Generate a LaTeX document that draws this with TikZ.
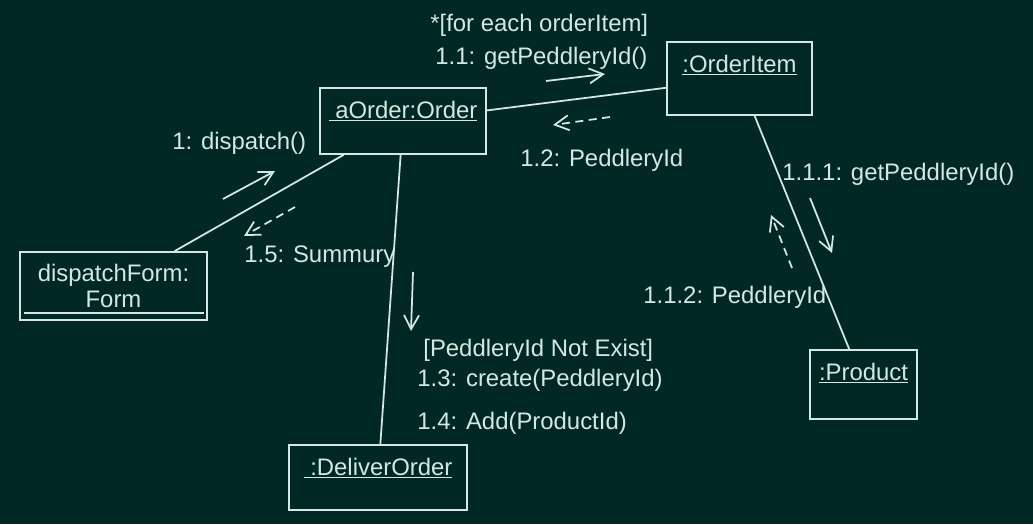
\documentclass[tikz,border=0pt]{standalone}
\usepackage{fontspec}
\setmainfont{Liberation Sans}
\usetikzlibrary{arrows.meta}
\definecolor{board}{RGB}{2,40,37}
\definecolor{chalk}{RGB}{210,232,226}
\tikzset{
  box/.style={draw=chalk, text=chalk, line width=1pt, inner sep=0pt},
  obj/.style={box, text height=0.6cm},
  link/.style={draw=chalk, line width=1pt},
  msg/.style={draw=chalk, line width=1pt, -{Straight Barb[length=2.8mm,width=3mm]}},
  ret/.style={msg, dash pattern=on 1.6mm off 1.1mm},
  lab/.style={text=chalk, inner sep=0pt, anchor=west},
}

\begin{document}
\begin{tikzpicture}[x=0.02cm, y=-0.02cm, font=\fontsize{13.6}{14.8}\selectfont]
  \fill[board] (0,0) rectangle (1033,524);
  \useasboundingbox (0,0) rectangle (1033,524);

  \node[obj, minimum width=3.32cm, text depth=0.72cm] (order) at (403,121) {\underline{\ aOrder:Order}};
  \node[obj, minimum width=2.9cm, text depth=0.86cm] (item) at (739.5,78.5) {\underline{:OrderItem}};
  \node[box, align=center, minimum width=3.74cm, minimum height=1.36cm] (form) at (113.5,286) {dispatchForm:\\Form};
  \node[obj, minimum width=3.56cm, text depth=0.7cm] (deliver) at (378,477.5) {\underline{\ :DeliverOrder}};
  \node[obj, minimum width=2.14cm, text depth=0.78cm] (product) at (863.5,384.5) {\underline{:Product}};
  \draw[link] ([shift={(5,-8)}]form.south west) -- ([shift={(-4,-8)}]form.south east);

  \draw[link] (order) -- (form);
  \draw[link] (order) -- (item);
  \draw[link] (order) -- (deliver);
  \draw[link] (item) -- (product);

  \coordinate (m1s) at (223,199);   \coordinate (m1e) at (275,171);
  \coordinate (m15s) at (295,207);  \coordinate (m15e) at (244,236);
  \coordinate (m11s) at (546,81);   \coordinate (m11e) at (605,74);
  \coordinate (m12s) at (610,117);  \coordinate (m12e) at (553,125);
  \coordinate (m111s) at (810,198); \coordinate (m111e) at (832,253);
  \coordinate (m112s) at (792,268); \coordinate (m112e) at (771,215);
  \coordinate (m13s) at (413,272);  \coordinate (m13e) at (411,331);
  \draw[msg] (m1s) -- (m1e);
  \draw[ret] (m15s) -- (m15e);
  \draw[msg] (m11s) -- (m11e);
  \draw[ret] (m12s) -- (m12e);
  \draw[msg] (m111s) -- (m111e);
  \draw[ret] (m112s) -- (m112e);
  \draw[msg] (m13s) -- (m13e);

  \node[lab] (l1) at (172,143) {1: dispatch()};
  \node[lab] (l15) at (244,257) {1.5: Summury};
  \node[lab] (lfor) at (430,25) {*[for each orderItem]};
  \node[lab] (l11) at (435,58) {1.1: getPeddleryId()};
  \node[lab] (l12) at (520,160) {1.2: PeddleryId};
  \node[lab] (l111) at (782,174) {1.1.1: getPeddleryId()};
  \node[lab] (l112) at (643,297) {1.1.2: PeddleryId};
  \node[lab] (lnot) at (423,350) {[PeddleryId Not Exist]};
  \node[lab] (l13) at (417,380) {1.3: create(PeddleryId)};
  \node[lab] (l14) at (417,423) {1.4: Add(ProductId)};
\end{tikzpicture}
\end{document}
